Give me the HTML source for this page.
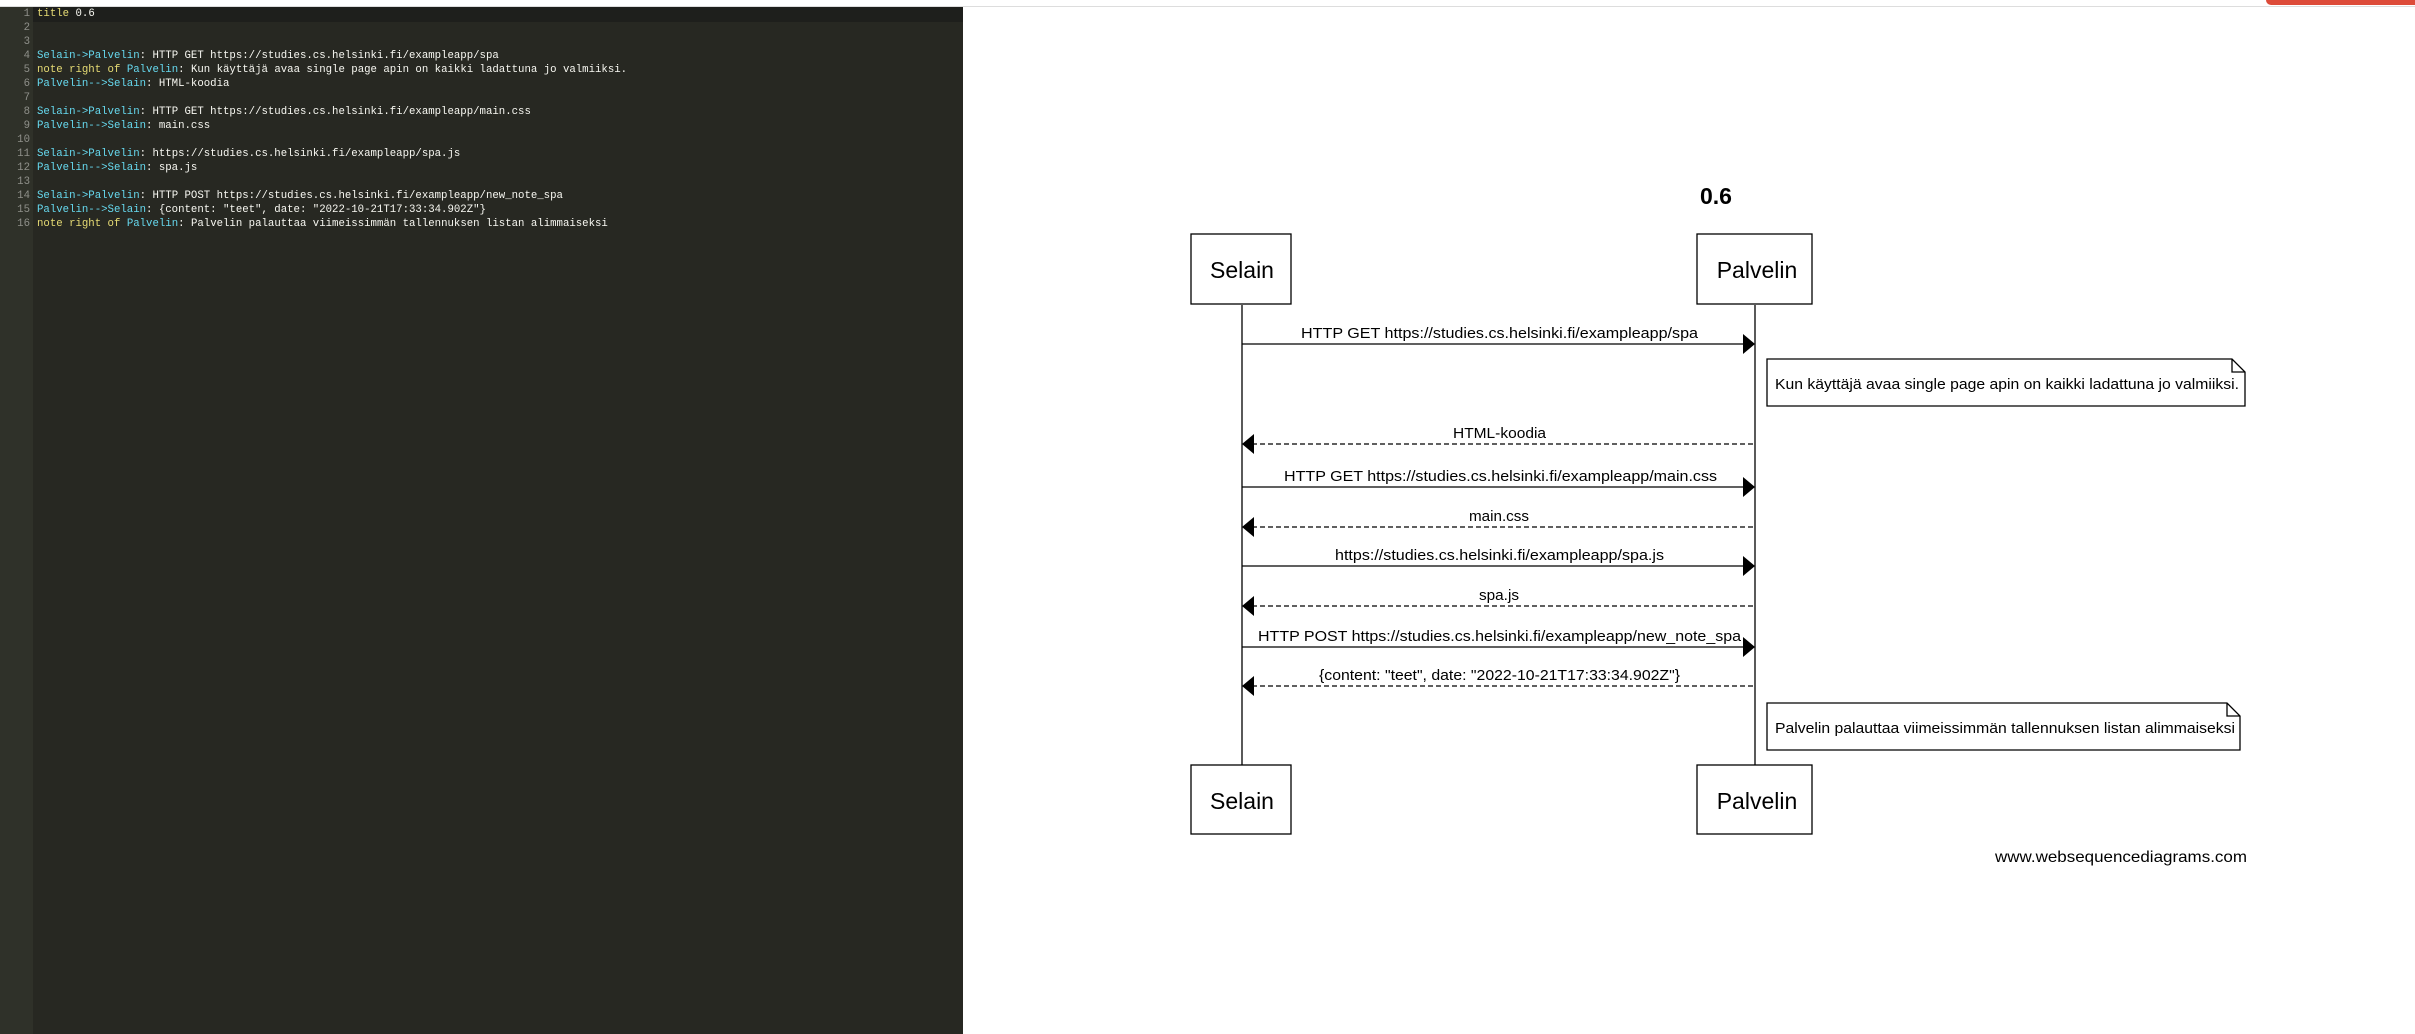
<!DOCTYPE html>
<html><head><meta charset="utf-8"><style>
html,body{margin:0;padding:0;width:2415px;height:1034px;overflow:hidden;background:#fff;}
#ed{position:absolute;left:0;top:7px;width:963px;height:1027px;background:#272822;}
#gut{position:absolute;left:0;top:0;width:33px;height:100%;background:#2f3129;}
.ln{position:absolute;left:0;width:30px;text-align:right;color:#8f908a;font:10.7px "Liberation Mono",monospace;}
.tx{position:absolute;left:37px;color:#f8f8f2;font:10.7px "Liberation Mono",monospace;white-space:pre;}
.c{color:#66d9ef}.y{color:#e6db74}
#cur{position:absolute;left:33px;top:0;width:930px;height:15px;background:#1e1f1c;}
#top{position:absolute;left:0;top:0;width:2415px;height:6px;background:#fff;border-bottom:1px solid #ddd;}
#red{position:absolute;left:2266px;top:0;width:149px;height:5px;background:#dd4b39;border-bottom-left-radius:5px;}
svg{position:absolute;left:0;top:0;}
</style></head><body>
<div id="top"></div><div id="red"></div>
<div id="ed"><div id="gut"></div><div id="cur"></div>
<div class="ln" style="top:1px">1</div><div class="ln" style="top:15px">2</div><div class="ln" style="top:29px">3</div><div class="ln" style="top:43px">4</div><div class="ln" style="top:57px">5</div><div class="ln" style="top:71px">6</div><div class="ln" style="top:85px">7</div><div class="ln" style="top:99px">8</div><div class="ln" style="top:113px">9</div><div class="ln" style="top:127px">10</div><div class="ln" style="top:141px">11</div><div class="ln" style="top:155px">12</div><div class="ln" style="top:169px">13</div><div class="ln" style="top:183px">14</div><div class="ln" style="top:197px">15</div><div class="ln" style="top:211px">16</div>
<div class="tx" style="top:1px"><span class="y">title</span> 0.6</div>
<div class="tx" style="top:43px"><span class="c">Selain-&gt;Palvelin</span>: HTTP GET https://studies.cs.helsinki.fi/exampleapp/spa</div>
<div class="tx" style="top:57px"><span class="y">note right of</span> <span class="c">Palvelin</span>: Kun käyttäjä avaa single page apin on kaikki ladattuna jo valmiiksi.</div>
<div class="tx" style="top:71px"><span class="c">Palvelin--&gt;Selain</span>: HTML-koodia</div>
<div class="tx" style="top:99px"><span class="c">Selain-&gt;Palvelin</span>: HTTP GET https://studies.cs.helsinki.fi/exampleapp/main.css</div>
<div class="tx" style="top:113px"><span class="c">Palvelin--&gt;Selain</span>: main.css</div>
<div class="tx" style="top:141px"><span class="c">Selain-&gt;Palvelin</span>: https://studies.cs.helsinki.fi/exampleapp/spa.js</div>
<div class="tx" style="top:155px"><span class="c">Palvelin--&gt;Selain</span>: spa.js</div>
<div class="tx" style="top:183px"><span class="c">Selain-&gt;Palvelin</span>: HTTP POST https://studies.cs.helsinki.fi/exampleapp/new_note_spa</div>
<div class="tx" style="top:197px"><span class="c">Palvelin--&gt;Selain</span>: {content: "teet", date: "2022-10-21T17:33:34.902Z"}</div>
<div class="tx" style="top:211px"><span class="y">note right of</span> <span class="c">Palvelin</span>: Palvelin palauttaa viimeissimmän tallennuksen listan alimmaiseksi</div>
</div>
<svg width="2415" height="1034" font-family="Liberation Sans, sans-serif">
<text x="1716" y="204" font-size="23" font-weight="bold" text-anchor="middle">0.6</text>
<g stroke="#000" stroke-width="1.3" fill="#fff">
<line x1="1242" y1="305" x2="1242" y2="765"/><line x1="1755" y1="305" x2="1755" y2="765"/>
<rect x="1191" y="234" width="100" height="70"/><rect x="1697" y="234" width="115" height="70"/>
<rect x="1191" y="765" width="100" height="69"/><rect x="1697" y="765" width="115" height="69"/>
<path d="M1767 359 H2232 L2245 372 V406 H1767 Z"/><path d="M2232 359 V372 H2245" fill="none"/>
<path d="M1767 703 H2227 L2240 716 V750 H1767 Z"/><path d="M2227 703 V716 H2240" fill="none"/>
</g>
<g font-size="23" text-anchor="middle"><text x="1242" y="278">Selain</text><text x="1757" y="278">Palvelin</text><text x="1242" y="809">Selain</text><text x="1757" y="809">Palvelin</text></g>
<g font-size="15" lengthAdjust="spacingAndGlyphs">
<text x="1775" y="389" textLength="464" lengthAdjust="spacingAndGlyphs">Kun käyttäjä avaa single page apin on kaikki ladattuna jo valmiiksi.</text>
<text x="1775" y="733" textLength="460" lengthAdjust="spacingAndGlyphs">Palvelin palauttaa viimeissimmän tallennuksen listan alimmaiseksi</text>
<text x="1995" y="862" font-size="16" textLength="252" lengthAdjust="spacingAndGlyphs">www.websequencediagrams.com</text></g>
<g stroke="#000" stroke-width="1.3">
<line x1="1242" y1="344" x2="1745" y2="344"/><line x1="1242" y1="487" x2="1745" y2="487"/><line x1="1242" y1="566" x2="1745" y2="566"/><line x1="1242" y1="647" x2="1745" y2="647"/>
<g stroke-dasharray="5,3"><line x1="1252" y1="444" x2="1755" y2="444"/><line x1="1252" y1="527" x2="1755" y2="527"/><line x1="1252" y1="606" x2="1755" y2="606"/><line x1="1252" y1="686" x2="1755" y2="686"/></g>
</g>
<g fill="#000">
<path d="M1743 334 L1755 344 L1743 354Z"/><path d="M1743 477 L1755 487 L1743 497Z"/><path d="M1743 556 L1755 566 L1743 576Z"/><path d="M1743 637 L1755 647 L1743 657Z"/>
<path d="M1254 434 L1242 444 L1254 454Z"/><path d="M1254 517 L1242 527 L1254 537Z"/><path d="M1254 596 L1242 606 L1254 616Z"/><path d="M1254 676 L1242 686 L1254 696Z"/>
</g>
<g font-size="15">
<text x="1301" y="338" textLength="397" lengthAdjust="spacingAndGlyphs">HTTP GET https://studies.cs.helsinki.fi/exampleapp/spa</text>
<text x="1453" y="438" textLength="93" lengthAdjust="spacingAndGlyphs">HTML-koodia</text>
<text x="1284" y="481" textLength="433" lengthAdjust="spacingAndGlyphs">HTTP GET https://studies.cs.helsinki.fi/exampleapp/main.css</text>
<text x="1469" y="521" textLength="60" lengthAdjust="spacingAndGlyphs">main.css</text>
<text x="1335" y="560" textLength="329" lengthAdjust="spacingAndGlyphs">https://studies.cs.helsinki.fi/exampleapp/spa.js</text>
<text x="1479" y="600" textLength="40" lengthAdjust="spacingAndGlyphs">spa.js</text>
<text x="1258" y="641" textLength="483" lengthAdjust="spacingAndGlyphs">HTTP POST https://studies.cs.helsinki.fi/exampleapp/new_note_spa</text>
<text x="1319" y="680" textLength="361" lengthAdjust="spacingAndGlyphs">{content: "teet", date: "2022-10-21T17:33:34.902Z"}</text>
</g>
</svg>
</body></html>
